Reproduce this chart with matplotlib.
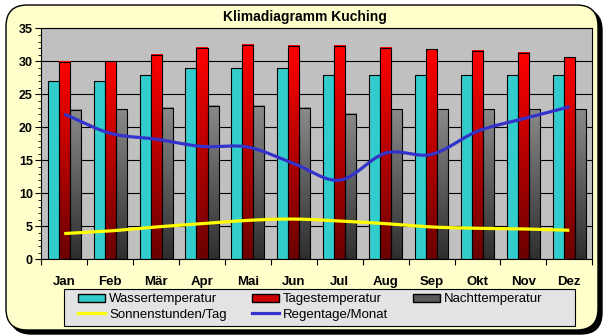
import numpy as np
import matplotlib
matplotlib.use("Agg")
import matplotlib.pyplot as plt
from matplotlib.patches import FancyBboxPatch, Rectangle, Patch
from matplotlib.lines import Line2D
from matplotlib.colors import LinearSegmentedColormap
from matplotlib.ticker import MultipleLocator

plt.rcParams['font.family'] = ['Liberation Sans', 'DejaVu Sans']

# data
monate = ['Jan', 'Feb', 'Mär', 'Apr', 'Mai', 'Jun', 'Jul', 'Aug', 'Sep', 'Okt', 'Nov', 'Dez']
wasser = [27, 27, 28, 29, 29, 29, 28, 28, 28, 28, 28, 28]
tag = [29.9, 30.0, 31.0, 32.0, 32.5, 32.3, 32.3, 32.0, 31.8, 31.6, 31.3, 30.6]
nacht = [22.6, 22.7, 23.0, 23.2, 23.3, 23.0, 22.0, 22.7, 22.7, 22.7, 22.7, 22.7]
sonne = [3.9, 4.3, 4.9, 5.4, 5.9, 6.1, 5.8, 5.4, 4.9, 4.7, 4.6, 4.4]
regen = [22.0, 19.1, 18.2, 17.1, 17.0, 14.5, 12.0, 16.1, 15.9, 19.4, 21.3, 23.1]

W, H = 609, 336
fig = plt.figure(figsize=(W / 100, H / 100), dpi=100)
fig.patch.set_facecolor('white')

# rounded background with shadow
shadow = FancyBboxPatch((10 / W, 2 / H), 592 / W, 325 / H,
                        boxstyle="round,pad=0,rounding_size=0.035",
                        transform=fig.transFigure, facecolor='black',
                        edgecolor='black', mutation_aspect=W / H, zorder=-3)
bg = FancyBboxPatch((6 / W, 6 / H), 592 / W, 325 / H,
                    boxstyle="round,pad=0,rounding_size=0.035",
                    transform=fig.transFigure, facecolor='#FFFFCC',
                    edgecolor='black', linewidth=1.0, mutation_aspect=W / H, zorder=-2)
# legend box
legbox = Rectangle((64 / W, 1 - 326 / H), 511 / W, 37 / H, transform=fig.transFigure,
                   facecolor='#E3E3E3', edgecolor='black', linewidth=0.8, zorder=-1)
fig.patches.extend([shadow, bg, legbox])

fig.text(305 / W, 1 - 17 / H, 'Klimadiagramm Kuching', ha='center', va='center',
         fontsize=10, fontweight='bold')

ax = fig.add_axes([41.3 / W, 1 - 259.3 / H, 551 / W, 231 / H])
ax.set_facecolor('#C0C0C0')

red_cmap = LinearSegmentedColormap.from_list('r', ['#6A0000', '#FF0000'])
gray_cmap = LinearSegmentedColormap.from_list('g', ['#2E2E2E', '#8A8A8A'])
grad = np.linspace(0, 1, 256).reshape(-1, 1)

x = np.arange(len(monate))
bw = 0.24
for i in x:
    # water: solid cyan
    ax.add_patch(Rectangle((i - 1.5 * bw, 0), bw, wasser[i], facecolor='#33CCCC',
                           edgecolor='black', linewidth=0.8, zorder=2))
    for off, val, cm in ((-0.5 * bw, tag[i], red_cmap), (0.5 * bw, nacht[i], gray_cmap)):
        ax.imshow(grad, extent=[i + off, i + off + bw, 0, val], origin='lower',
                  aspect='auto', cmap=cm, zorder=2, interpolation='bilinear')
        ax.add_patch(Rectangle((i + off, 0), bw, val, facecolor='none',
                               edgecolor='black', linewidth=0.8, zorder=2.1))


def smooth(xs, ys, n=20):
    # catmull-rom curve through the points (like Excel's smoothed line)
    xs = np.asarray(xs, float)
    ys = np.asarray(ys, float)
    px = np.concatenate([[2 * xs[0] - xs[1]], xs, [2 * xs[-1] - xs[-2]]])
    py = np.concatenate([[2 * ys[0] - ys[1]], ys, [2 * ys[-1] - ys[-2]]])
    ox, oy = [], []
    t = np.linspace(0, 1, n, endpoint=False)
    for k in range(1, len(px) - 2):
        for p, o in ((px, ox), (py, oy)):
            p0, p1, p2, p3 = p[k - 1], p[k], p[k + 1], p[k + 2]
            o.extend(0.5 * (2 * p1 + (-p0 + p2) * t + (2 * p0 - 5 * p1 + 4 * p2 - p3) * t ** 2
                            + (-p0 + 3 * p1 - 3 * p2 + p3) * t ** 3))
    ox.append(xs[-1])
    oy.append(ys[-1])
    return ox, oy


sx, sy = smooth(x, sonne)
ax.plot(sx, sy, color='#FFFF00', linewidth=2.3, zorder=3, solid_capstyle='butt')
rx, ry = smooth(x, regen)
ax.plot(rx, ry, color='#3333CC', linewidth=2.3, zorder=3, solid_capstyle='butt')

ax.set_xlim(-0.5, 11.5)
ax.set_ylim(0, 35)
ax.yaxis.set_major_locator(MultipleLocator(5))
ax.yaxis.set_minor_locator(MultipleLocator(1))
ax.grid(axis='y', color='black', linewidth=0.8, zorder=1)
ax.set_axisbelow(True)

ax.set_xticks(np.arange(-0.5, 12, 1))
ax.set_xticklabels([])
ax.set_xticks(x, minor=True)
ax.set_xticklabels(monate, minor=True, fontsize=9.5, fontweight='bold')
ax.tick_params(axis='x', which='major', length=4, width=0.8, direction='out')
ax.tick_params(axis='x', which='minor', length=0, pad=12)
ax.tick_params(axis='y', which='major', length=4, width=0.8, labelsize=9, pad=2)
ax.tick_params(axis='y', which='minor', length=2, width=0.6)
for lab in ax.get_yticklabels():
    lab.set_fontweight('bold')
for s in ax.spines.values():
    s.set_color('black')
    s.set_linewidth(0.8)

handles = [
    Patch(facecolor='#33CCCC', edgecolor='black', label='Wassertemperatur'),
    Line2D([], [], color='#FFFF00', linewidth=2.3, label='Sonnenstunden/Tag'),
    Patch(facecolor='#CC0000', edgecolor='black', label='Tagestemperatur'),
    Line2D([], [], color='#3333CC', linewidth=2.3, label='Regentage/Monat'),
    Patch(facecolor='#5A5A5A', edgecolor='black', label='Nachttemperatur'),
]
leg = fig.legend(handles=handles, ncol=3, loc='center left',
                 bbox_to_anchor=(78 / W, 1 - 307 / H),
                 fontsize=9.5, frameon=False,
                 handlelength=2.05, handleheight=0.55, handletextpad=0.3,
                 columnspacing=1.9, borderpad=0, labelspacing=0.25, borderaxespad=0)

fig.savefig('out.png', dpi=100)
